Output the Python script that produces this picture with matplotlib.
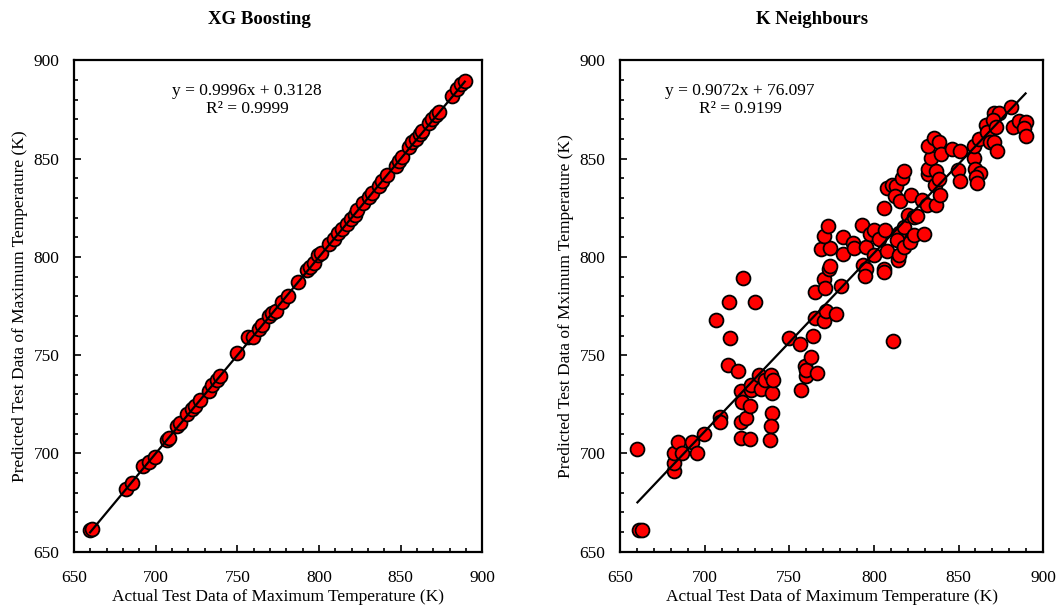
import numpy as np
import matplotlib
matplotlib.use("Agg")
import matplotlib.pyplot as plt
from matplotlib.ticker import MultipleLocator

plt.rcParams['font.family'] = ['Liberation Serif', 'DejaVu Serif']
plt.rcParams['mathtext.fontset'] = 'stix'

# XG Boosting: actual vs predicted
xgb_actual = [659.8, 661.2, 681.9, 685.4, 692.5, 695.6, 699.7, 706.8, 708.4, 713.0,
              714.6, 719.1, 722.2, 724.2, 727.3, 732.4, 734.4, 737.5, 739.5, 750.0,
              756.2, 759.3, 763.0, 765.0, 769.1, 771.2, 773.6, 777.3, 780.8, 787.1,
              792.7, 794.3, 796.8, 799.4, 800.9, 806.0, 809.0, 811.7, 814.2, 816.8,
              819.3, 821.7, 823.3, 827.0, 830.5, 832.5, 836.6, 838.7, 841.7, 846.8,
              848.9, 850.9, 855.0, 857.1, 859.1, 861.8, 863.2, 867.3, 869.3, 871.4,
              873.4, 881.6, 884.7, 887.1, 889.2]
xgb_pred = [660.9, 661.6, 681.7, 685.2, 693.5, 695.6, 698.2, 706.8, 708.0, 713.8,
            715.5, 720.2, 722.4, 724.1, 727.1, 732.0, 734.6, 737.5, 739.2, 751.3,
            759.3, 759.1, 763.5, 765.2, 769.7, 771.3, 772.7, 777.3, 780.1, 787.4,
            793.1, 794.7, 796.9, 800.9, 802.1, 806.4, 809.0, 812.0, 814.2, 816.8,
            819.1, 821.5, 823.8, 827.6, 830.7, 832.4, 836.2, 838.5, 841.4, 846.3,
            848.9, 851.0, 855.8, 858.4, 860.2, 862.4, 864.0, 868.0, 870.2, 872.3,
            873.7, 881.8, 885.3, 887.9, 889.3]

# K Neighbours: actual vs predicted
knn_actual = [660.3, 661.0, 663.0, 682.0, 682.0, 682.0, 684.0, 686.5, 692.8, 695.7,
              699.7, 708.8, 708.8, 707.0, 714.3, 715.0, 713.7, 720.0, 722.4, 729.5,
              721.6, 722.0, 721.6, 724.3, 721.4, 726.9, 726.9, 727.3, 727.3, 732.2,
              733.4, 735.8, 739.3, 739.7, 739.9, 739.3, 738.9, 740.3, 750.0, 756.5,
              757.0, 759.4, 759.8, 759.8, 766.3, 763.0, 764.3, 765.0, 765.0, 770.6,
              771.2, 770.6, 771.6, 777.8, 780.5, 773.6, 773.8, 768.7, 773.8, 770.3,
              772.8, 781.7, 782.0, 787.6, 788.0, 792.9, 793.5, 795.4, 795.4, 794.9,
              797.9, 799.8, 799.8, 802.8, 806.2, 806.7, 805.8, 806.2, 807.7, 807.7,
              810.7, 813.3, 816.6, 818.0, 812.7, 815.7, 814.6, 813.6, 814.0, 815.0,
              818.0, 817.6, 820.0, 822.1, 823.5, 825.5, 821.5, 823.5, 829.4, 828.4,
              831.4, 831.8, 832.0, 833.8, 831.8, 835.7, 838.3, 839.7, 836.9, 836.3,
              836.9, 839.3, 838.3, 846.2, 851.1, 849.8, 850.8, 859.0, 859.0, 862.0,
              859.6, 862.9, 860.6, 861.0, 866.0, 867.0, 870.9, 873.8, 870.3, 871.9,
              868.8, 870.9, 872.8, 880.7, 882.1, 885.6, 889.6, 888.6, 889.6, 811.3]
knn_pred = [702.5, 661.2, 661.2, 691.2, 695.2, 700.0, 706.0, 700.3, 705.8, 700.0,
            709.8, 718.3, 715.8, 768.1, 776.9, 758.9, 744.9, 742.0, 789.1, 776.9,
            731.6, 726.4, 716.1, 717.8, 708.0, 707.2, 724.3, 732.1, 734.7, 739.8,
            732.9, 737.2, 739.8, 730.7, 720.6, 714.0, 706.7, 737.2, 758.7, 755.6,
            732.1, 744.4, 739.3, 742.4, 740.7, 749.2, 759.5, 769.0, 782.2, 788.7,
            784.4, 767.6, 772.4, 770.7, 785.3, 793.9, 795.6, 804.2, 804.7, 810.5,
            815.9, 810.2, 801.3, 807.3, 804.7, 816.2, 796.0, 805.0, 793.9, 790.5,
            811.6, 813.6, 800.8, 809.3, 824.8, 813.6, 793.9, 792.2, 802.9, 835.1,
            836.8, 836.0, 840.2, 843.7, 830.8, 828.2, 811.9, 808.5, 798.2, 800.8,
            815.4, 805.0, 821.4, 831.7, 820.5, 821.0, 807.6, 811.1, 811.4, 829.1,
            826.5, 842.0, 844.9, 850.2, 856.6, 860.5, 858.3, 852.3, 843.7, 836.8,
            826.5, 831.7, 839.4, 854.8, 854.0, 844.0, 838.5, 850.2, 856.6, 860.0,
            844.5, 842.8, 840.6, 837.7, 866.9, 863.5, 873.2, 873.2, 869.4, 866.0,
            858.3, 858.3, 854.0, 876.3, 866.0, 869.1, 868.6, 865.7, 861.7, 757.0]

panels = [
    ("XG Boosting", xgb_actual, xgb_pred, 0.9996, 0.3128, 0.9999,
     "Predicted Test Data of Maximum Temperature (K)", 756),
    ("K Neighbours", knn_actual, knn_pred, 0.9072, 76.097, 0.9199,
     "Predicted Test Data of Mximum Temperature (K)", 721),
]

fig = plt.figure(figsize=(10.58, 6.09), dpi=100)
axes = [fig.add_axes([0.070, 0.094, 0.386, 0.807]),
        fig.add_axes([0.586, 0.094, 0.400, 0.807])]

for ax, (title, xa, ya, slope, icpt, r2, ylab, tx) in zip(axes, panels):
    ax.scatter(xa, ya, s=100, c='#ff0000', edgecolors='black', linewidths=1.3, zorder=3)
    xs = np.array([min(xa), max(xa)])
    ax.plot(xs, slope * xs + icpt, color='black', lw=1.6, zorder=4)
    ax.set_xlim(650, 900)
    ax.set_ylim(650, 900)
    ax.xaxis.set_major_locator(MultipleLocator(50))
    ax.yaxis.set_major_locator(MultipleLocator(50))
    ax.xaxis.set_minor_locator(MultipleLocator(10))
    ax.yaxis.set_minor_locator(MultipleLocator(10))
    ax.tick_params(which='both', direction='in', labelsize=12.5, width=1.2)
    ax.tick_params(which='major', length=5)
    ax.tick_params(which='minor', length=3)
    ax.tick_params(axis='x', which='both', pad=13)
    ax.tick_params(axis='y', which='both', pad=10.5)
    for sp in ax.spines.values():
        sp.set_linewidth(1.6)
    ax.set_title(title, fontsize=13.5, fontweight='bold', pad=26, x=0.453)
    ax.set_xlabel("Actual Test Data of Maximum Temperature (K)", fontsize=12.5, labelpad=2)
    ax.set_ylabel(ylab, fontsize=12.5, labelpad=4)
    ax.text(tx, 884.5, "y = %.4fx + %s" % (slope, ("%.3f" % icpt) if icpt > 10 else ("%.4f" % icpt)),
            ha='center', va='center', fontsize=12.5, zorder=5)
    ax.text(tx, 875, "R² = %.4f" % r2, ha='center', va='center', fontsize=12.5, zorder=5)

fig.savefig("out.png", dpi=100)
